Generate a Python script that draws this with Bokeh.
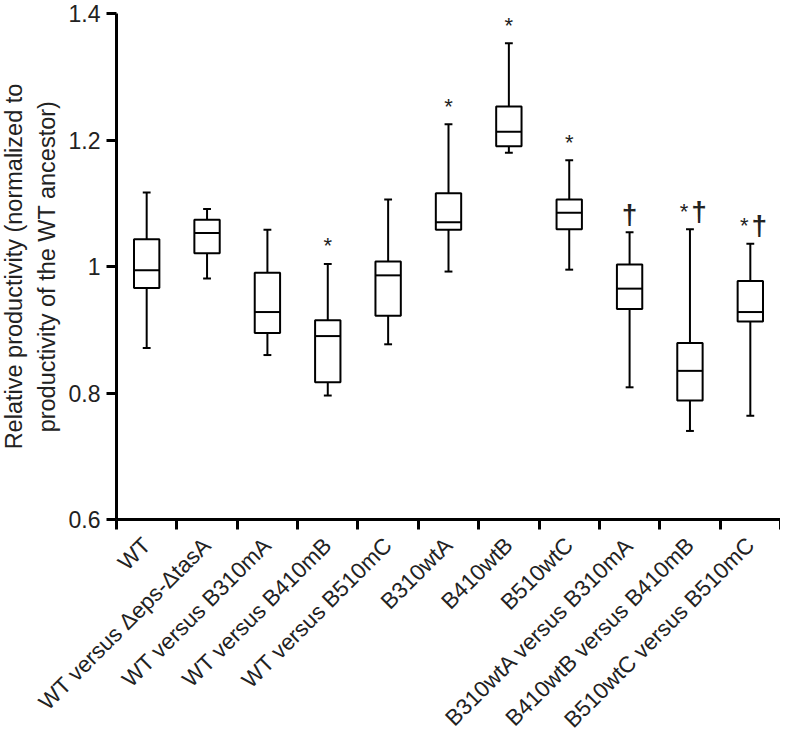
import numpy as np
from bokeh.plotting import figure
from bokeh.models import FixedTicker, Range1d, ColumnDataSource
from bokeh.embed import file_html
from bokeh.resources import INLINE
from bokeh.core.properties import value

categories = ["WT", "WT versus Δeps-ΔtasA", "WT versus B310mA", "WT versus B410mB",
              "WT versus B510mC", "B310wtA", "B410wtB", "B510wtC",
              "B310wtA versus B310mA", "B410wtB versus B410mB", "B510wtC versus B510mC"]
whisker_low = [0.871, 0.981, 0.860, 0.796, 0.877, 0.992, 1.180, 0.995, 0.809, 0.740, 0.764]
q1 = [0.966, 1.021, 0.895, 0.817, 0.922, 1.058, 1.190, 1.059, 0.933, 0.788, 0.913]
median = [0.994, 1.053, 0.928, 0.890, 0.986, 1.070, 1.213, 1.085, 0.965, 0.835, 0.928]
q3 = [1.043, 1.074, 0.990, 0.915, 1.008, 1.116, 1.253, 1.106, 1.003, 0.879, 0.977]
whisker_high = [1.117, 1.091, 1.058, 1.004, 1.106, 1.225, 1.353, 1.168, 1.054, 1.059, 1.036]
significance = ["", "", "", "*", "", "*", "*", "*", "†", "*†", "*†"]
y_ticks = [0.6, 0.8, 1.0, 1.2, 1.4]
y_tick_labels = ["0.6", "0.8", "1", "1.2", "1.4"]
y_title = "Relative productivity (normalized to\nproductivity of the WT ancestor)"

FONT = "Liberation Sans"
TXT = "#222222"
n = len(categories)
xc = np.arange(n) + 0.5
bounds = np.arange(n + 1)
box_w = 0.42
cap_half = 0.065

# layout (pixels): the frame covers the whole canvas; axes are pinned inside it
W, H = 780, 735
TOP_PX = 13            # space above 1.4
LEFT_PX = 116          # where the y axis sits
AXIS_PX = 506          # height of 0.6..1.4
BELOW = H - TOP_PX - AXIS_PX
y0, y1 = y_ticks[0], y_ticks[-1]
per_px = (y1 - y0) / AXIS_PX
y_start = y0 - BELOW * per_px
y_end = y1 + TOP_PX * per_px
x_start = -LEFT_PX * n / (W - LEFT_PX)

p = figure(width=W, height=H, x_range=Range1d(x_start, n), y_range=Range1d(y_start, y_end),
           output_backend="svg", toolbar_location=None,
           min_border_left=0, min_border_right=0, min_border_top=0, min_border_bottom=0)
p.outline_line_color = None
p.xgrid.grid_line_color = None
p.ygrid.grid_line_color = None
p.background_fill_color = "white"

src = ColumnDataSource(dict(x=xc, lo=whisker_low, q1=q1, med=median, q3=q3, hi=whisker_high,
                            xl=xc - box_w / 2, xr=xc + box_w / 2,
                            cl=xc - cap_half, cr=xc + cap_half))

lw = 2
p.segment(x0="x", y0="q3", x1="x", y1="hi", source=src, line_color="black", line_width=lw)
p.segment(x0="x", y0="lo", x1="x", y1="q1", source=src, line_color="black", line_width=lw)
p.segment(x0="cl", y0="hi", x1="cr", y1="hi", source=src, line_color="black", line_width=lw)
p.segment(x0="cl", y0="lo", x1="cr", y1="lo", source=src, line_color="black", line_width=lw)
p.vbar(x="x", bottom="q1", top="q3", width=box_w, source=src, fill_color="white",
       line_color="black", line_width=lw)
p.segment(x0="xl", y0="med", x1="xr", y1="med", source=src, line_color="black", line_width=lw)

# significance marks
sx, sy, sdx = [], [], []
dx_, dy_, ddx = [], [], []
for i, s in enumerate(significance):
    both = ("*" in s) and ("†" in s)
    if "*" in s:
        sx.append(xc[i]); sy.append(whisker_high[i]); sdx.append(-6 if both else 0)
    if "†" in s:
        dx_.append(xc[i]); dy_.append(whisker_high[i]); ddx.append(9 if both else 0)

p.text(x=sx, y=sy, text=["*"] * len(sx), x_offset=sdx, y_offset=-18,
       text_align="center", text_baseline="alphabetic",
       text_font=value(FONT), text_font_size="22px", text_color=TXT)
p.text(x=dx_, y=dy_, text=["†"] * len(dx_), x_offset=ddx, y_offset=-18,
       text_align="center", text_baseline="alphabetic",
       text_font=value(FONT), text_font_size="28px", text_font_style="bold", text_color=TXT)

# y axis, pinned at x = 0 and limited to 0.6..1.4
ya = p.yaxis[0]
ya.fixed_location = 0
ya.bounds = (y0, y1)
ya.ticker = FixedTicker(ticks=y_ticks)
ya.major_label_overrides = dict(zip(y_ticks, y_tick_labels))
ya.minor_tick_line_color = None
ya.major_tick_in = 0
ya.major_tick_out = 10
ya.major_tick_line_width = 3
ya.axis_line_width = 3
ya.major_label_standoff = 6
ya.major_label_text_font = FONT
ya.major_label_text_font_size = "23px"
ya.major_label_text_color = TXT

# y title, centred on the 0.6..1.4 span
p.text(x=[0], y=[(y0 + y1) / 2], text=[y_title], angle=np.pi / 2, x_offset=-86,
       text_align="center", text_baseline="middle", text_line_height=1.25,
       text_font=value(FONT), text_font_size="23.5px", text_color=TXT)

# x axis, pinned at y = 0.6; ticks at category boundaries, names at centres
xa = p.xaxis[0]
xa.fixed_location = y0
xa.bounds = (0, n)
xa.ticker = FixedTicker(ticks=list(xc), minor_ticks=list(bounds))
xa.major_label_overrides = {float(x): c for x, c in zip(xc, categories)}
xa.major_tick_in = 0
xa.major_tick_out = 0
xa.major_tick_line_color = None
xa.minor_tick_in = 0
xa.minor_tick_out = 10
xa.minor_tick_line_width = 3
xa.minor_tick_line_color = "black"
xa.axis_line_width = 3
xa.major_label_orientation = np.pi / 4
xa.major_label_standoff = 12
xa.major_label_text_font = FONT
xa.major_label_text_font_size = "22.5px"
xa.major_label_text_color = TXT

open("out.html", "w").write(file_html(p, INLINE))
